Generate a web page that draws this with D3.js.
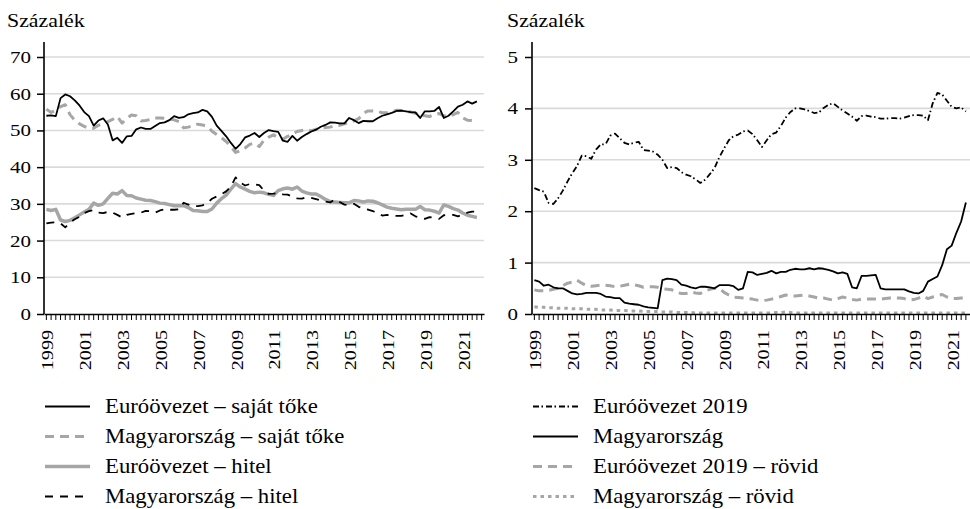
<!DOCTYPE html>
<html>
<head>
<meta charset="utf-8">
<script src="https://cdn.jsdelivr.net/npm/d3@7"></script>
<style>
body{margin:0;background:#fff;}
</style>
</head>
<body>
<svg id="chart" width="970" height="509"></svg>
<script>
// negyedéves adatok, 1999 Q1 - 2021 Q4
var yearLabels = ["1999","2001","2003","2005","2007","2009","2011","2013","2015","2017","2019","2021"];
var leftTicks = [0,10,20,30,40,50,60,70];
var rightTicks = [0,1,2,3,4,5];

var euroEquity = [54.0,54.1,53.9,58.8,59.8,59.3,58.2,56.8,55.0,53.9,
  51.3,52.7,53.3,51.6,47.3,48.0,46.6,48.4,48.5,50.3,
  50.8,50.4,50.4,51.2,52.0,52.2,52.8,53.9,53.4,53.6,
  54.4,54.7,54.9,55.6,55.2,53.7,51.3,49.9,48.4,46.6,
  45.0,46.3,48.1,48.6,49.3,48.2,49.3,50.1,49.8,49.6,
  47.2,46.9,48.5,47.2,48.2,49.0,49.7,50.2,51.0,51.5,
  52.2,52.1,51.9,51.9,53.4,52.8,52.0,52.6,52.5,52.5,
  53.3,54.0,54.4,54.8,55.3,55.4,55.2,55.0,54.9,53.4,
  55.2,55.2,55.3,56.4,53.4,54.0,55.2,56.5,57.0,57.9,
  57.3,57.9];
var huEquity = [55.8,54.9,55.5,56.5,57.0,54.3,52.8,51.8,51.1,50.6,
  50.6,51.4,51.9,52.4,53.0,53.8,52.0,53.3,54.2,54.0,
  52.6,52.7,53.0,53.4,53.4,53.3,53.1,52.9,52.4,50.7,
  50.9,51.3,51.7,51.5,51.1,49.8,48.9,48.0,47.0,45.6,
  44.0,44.5,45.2,46.2,46.5,45.6,47.4,48.2,48.8,48.0,
  47.6,48.4,49.0,49.7,50.0,50.2,49.9,50.3,50.6,50.8,
  50.9,51.3,51.4,51.8,52.2,52.6,53.2,54.7,55.3,55.3,
  55.2,54.8,54.8,55.0,55.5,55.4,55.2,55.0,54.7,54.1,
  54.0,53.8,54.3,54.6,54.0,53.8,54.3,54.9,53.4,52.8,
  52.7,52.7];
var euroLoan = [28.5,28.2,28.5,25.6,25.2,25.5,26.2,27.0,27.8,28.5,
  30.2,29.6,30.0,31.5,32.9,32.7,33.6,32.3,32.2,31.6,
  31.3,31.0,30.9,30.6,30.2,30.1,29.8,29.5,29.5,29.5,
  29.0,28.2,28.1,27.9,27.9,28.6,30.2,31.4,32.4,34.0,
  35.5,34.6,34.0,33.4,33.0,33.2,33.0,32.6,32.3,33.6,
  34.1,34.3,34.0,34.6,33.5,33.0,32.7,32.7,32.0,31.2,
  30.6,30.5,30.4,30.3,30.3,30.9,30.8,30.5,30.8,30.7,
  30.3,29.7,29.1,28.8,28.6,28.4,28.5,28.5,28.5,29.3,
  28.4,28.3,28.0,27.5,29.7,29.3,28.7,28.3,27.5,26.9,
  26.6,26.3];
var huLoan = [24.7,24.9,25.0,24.7,23.6,24.9,25.8,26.5,27.5,28.0,
  28.3,27.6,27.5,27.8,27.6,27.0,26.3,27.0,27.3,27.5,
  27.6,28.1,28.0,27.6,28.2,28.5,28.4,28.4,28.5,30.3,
  29.8,29.3,29.4,29.6,30.2,31.4,32.0,32.6,33.4,34.7,
  37.2,35.8,35.0,35.4,35.3,35.1,33.6,32.7,32.8,33.0,
  32.6,32.5,32.0,31.5,31.4,31.8,31.6,31.3,30.9,30.6,
  30.4,31.2,30.5,29.8,29.6,30.0,29.2,28.7,28.4,28.0,
  27.6,26.8,27.0,26.8,26.7,26.7,27.0,27.4,26.6,26.2,
  25.9,26.4,26.2,25.9,26.9,27.0,27.0,26.6,27.1,27.6,
  27.9,27.9];

var euro2019 = [2.45,2.41,2.38,2.16,2.14,2.25,2.40,2.58,2.74,2.88,
  3.08,3.07,3.02,3.20,3.30,3.30,3.47,3.51,3.42,3.33,
  3.30,3.33,3.35,3.19,3.18,3.16,3.10,3.00,2.84,2.86,
  2.84,2.76,2.71,2.68,2.62,2.55,2.61,2.72,2.84,3.05,
  3.22,3.38,3.46,3.49,3.55,3.57,3.50,3.38,3.25,3.38,
  3.50,3.53,3.66,3.82,3.93,4.00,4.00,3.98,3.95,3.91,
  3.92,4.01,4.07,4.10,4.03,3.96,3.90,3.84,3.76,3.85,
  3.86,3.84,3.83,3.80,3.80,3.81,3.81,3.80,3.82,3.85,
  3.87,3.87,3.86,3.77,4.10,4.30,4.27,4.15,4.03,4.00,
  4.02,3.94];
var hungary = [0.66,0.63,0.55,0.57,0.52,0.50,0.50,0.45,0.40,0.38,
  0.39,0.41,0.41,0.41,0.39,0.34,0.33,0.31,0.31,0.22,
  0.20,0.19,0.18,0.15,0.13,0.12,0.11,0.66,0.69,0.68,
  0.66,0.57,0.55,0.52,0.50,0.53,0.53,0.52,0.50,0.56,
  0.56,0.56,0.54,0.47,0.50,0.82,0.81,0.76,0.78,0.80,
  0.84,0.79,0.82,0.82,0.86,0.88,0.87,0.87,0.89,0.87,
  0.89,0.88,0.86,0.83,0.79,0.81,0.78,0.52,0.50,0.74,
  0.74,0.75,0.76,0.50,0.48,0.48,0.48,0.48,0.48,0.44,
  0.41,0.40,0.45,0.63,0.68,0.73,0.95,1.26,1.33,1.58,
  1.80,2.17];
var euro2019Short = [0.47,0.45,0.45,0.46,0.48,0.50,0.55,0.60,0.62,0.66,
  0.60,0.55,0.54,0.55,0.56,0.56,0.55,0.53,0.54,0.56,
  0.58,0.57,0.55,0.52,0.53,0.53,0.52,0.49,0.48,0.47,
  0.42,0.40,0.40,0.43,0.41,0.40,0.45,0.48,0.50,0.50,
  0.42,0.37,0.33,0.32,0.31,0.30,0.29,0.27,0.26,0.27,
  0.29,0.31,0.34,0.37,0.35,0.35,0.36,0.37,0.35,0.33,
  0.31,0.31,0.29,0.27,0.30,0.33,0.31,0.28,0.27,0.29,
  0.29,0.29,0.29,0.29,0.30,0.31,0.31,0.31,0.30,0.27,
  0.28,0.31,0.35,0.30,0.33,0.36,0.38,0.33,0.30,0.30,
  0.31,0.31];
var hungaryShort = [0.14,0.13,0.13,0.12,0.12,0.11,0.11,0.11,0.10,0.10,
  0.10,0.09,0.09,0.09,0.08,0.08,0.08,0.07,0.07,0.07,
  0.06,0.06,0.06,0.05,0.05,0.05,0.05,0.04,0.04,0.04,
  0.03,0.03,0.03,0.03,0.02,0.02,0.02,0.02,0.02,0.02,
  0.02,0.02,0.02,0.02,0.02,0.02,0.02,0.02,0.02,0.02,
  0.02,0.03,0.03,0.04,0.03,0.02,0.02,0.02,0.02,0.02,
  0.02,0.02,0.02,0.02,0.02,0.02,0.02,0.02,0.02,0.02,
  0.02,0.02,0.02,0.02,0.02,0.02,0.02,0.02,0.02,0.02,
  0.02,0.02,0.02,0.02,0.02,0.02,0.02,0.02,0.02,0.02,
  0.02,0.02];

var gray = "#a6a6a6";
var serif = "'Liberation Serif'";

// kategóriák: negyedévek (egy üres negyedév a végén, mint az eredetin)
var quarters = [];
for (var yr = 1999; yr <= 2022; yr++) {
  for (var q = 1; q <= 4; q++) quarters.push(yr + "Q" + q);
}
quarters = quarters.slice(0, 93);

var svg = d3.select("#chart");

// az eredeti betűtípus szélesebb, ezért vízszintesen nyújtjuk
function label(parent, x, y, txt, size, stretch, anchor, rot) {
  return parent.append("text")
    .attr("transform", "translate(" + x + "," + y + ")" + (rot ? " rotate(" + rot + ")" : "") + " scale(" + stretch + ",1)")
    .style("font-family", serif)
    .style("font-size", size + "px")
    .style("fill", "#000")
    .style("text-anchor", anchor || "start")
    .text(txt);
}

function panel(opt) {
  var g = svg.append("g");
  var x = d3.scaleBand().domain(quarters).range([opt.left, opt.right]).padding(0);
  var y = d3.scaleLinear().domain([0, opt.max]).range([314, 57]);

  // rácsvonalak
  g.selectAll("line.grid")
    .data(opt.ticks.filter(function(d){ return d > 0; }))
    .enter().append("line")
    .attr("x1", opt.left).attr("x2", opt.right)
    .attr("y1", function(d){ return y(d); })
    .attr("y2", function(d){ return y(d); })
    .style("stroke", "#dadada")
    .style("stroke-width", 1.6);

  label(g, opt.titleX, 27, "Százalék", 19, 1.15);

  var line = d3.line()
    .x(function(d, i){ return x(quarters[i]) + x.bandwidth() / 2; })
    .y(function(d){ return y(d); });

  opt.series.forEach(function(s){
    g.append("path")
      .datum(s.data)
      .attr("d", line)
      .style("fill", "none")
      .style("stroke", s.color)
      .style("stroke-width", s.width)
      .style("stroke-dasharray", s.dash || null)
      .style("stroke-linejoin", "round");
  });

  // y tengely
  var yAxis = d3.axisLeft(y).tickValues(opt.ticks).tickFormat("").tickSize(7);
  var ya = g.append("g").attr("transform", "translate(" + opt.left + ",0)").call(yAxis);
  ya.select(".domain").remove();
  ya.selectAll("line").style("stroke", "#000").style("stroke-width", 1.5);
  opt.ticks.forEach(function(t){
    label(g, opt.left - opt.labelGap, y(t) + 6, d3.format("d")(t), 17.5, 1.2, "end");
  });
  g.append("line")
    .attr("x1", opt.left).attr("x2", opt.left)
    .attr("y1", 42).attr("y2", 314)
    .style("stroke", "#000").style("stroke-width", 1.6);

  // x tengely
  var xAxis = d3.axisBottom(x).tickFormat("").tickSize(6).tickSizeOuter(0);
  var xa = g.append("g").attr("transform", "translate(0,314)").call(xAxis);
  xa.select(".domain").style("stroke", "#000").style("stroke-width", 1.6);
  xa.selectAll(".tick line").style("stroke", "#000").style("stroke-width", 1);

  yearLabels.forEach(function(d){
    label(g, x(d + "Q1") + x.bandwidth() / 2 + 7, 330, d, 17.5, 1.15, "end", -90);
  });

  // jelmagyarázat
  var items = opt.series.slice().sort(function(a, b){ return a.order - b.order; });
  items.forEach(function(d, i){
    var yy = 413 + i * 30;
    g.append("line")
      .attr("x1", opt.legendX).attr("x2", opt.legendX + 45)
      .attr("y1", yy - 6.5).attr("y2", yy - 6.5)
      .style("stroke", d.color)
      .style("stroke-width", d.width)
      .style("stroke-dasharray", d.dash || null);
    label(g, opt.legendX + 60, yy, d.name, 20.5, 1.11);
  });
}

panel({
  left: 44, right: 484, max: 70, ticks: leftTicks, legendX: 45, titleX: 7, labelGap: 13,
  series: [
    {name: "Euróövezet – hitel", data: euroLoan, color: gray, width: 3.5, order: 3},
    {name: "Magyarország – saját tőke", data: huEquity, color: gray, width: 3, dash: "9,6", order: 2},
    {name: "Magyarország – hitel", data: huLoan, color: "#000", width: 1.8, dash: "8,7", order: 4},
    {name: "Euróövezet – saját tőke", data: euroEquity, color: "#000", width: 1.8, order: 1}
  ]
});

panel({
  left: 532, right: 973, max: 5, ticks: rightTicks, legendX: 533, titleX: 507, labelGap: 14,
  series: [
    {name: "Euróövezet 2019 – rövid", data: euro2019Short, color: gray, width: 3, dash: "9,6", order: 3},
    {name: "Magyarország – rövid", data: hungaryShort, color: gray, width: 3, dash: "3.5,4", order: 4},
    {name: "Magyarország", data: hungary, color: "#000", width: 1.8, order: 2},
    {name: "Euróövezet 2019", data: euro2019, color: "#000", width: 1.8, dash: "6,2.5,1.5,3", order: 1}
  ]
});
</script>
</body>
</html>
